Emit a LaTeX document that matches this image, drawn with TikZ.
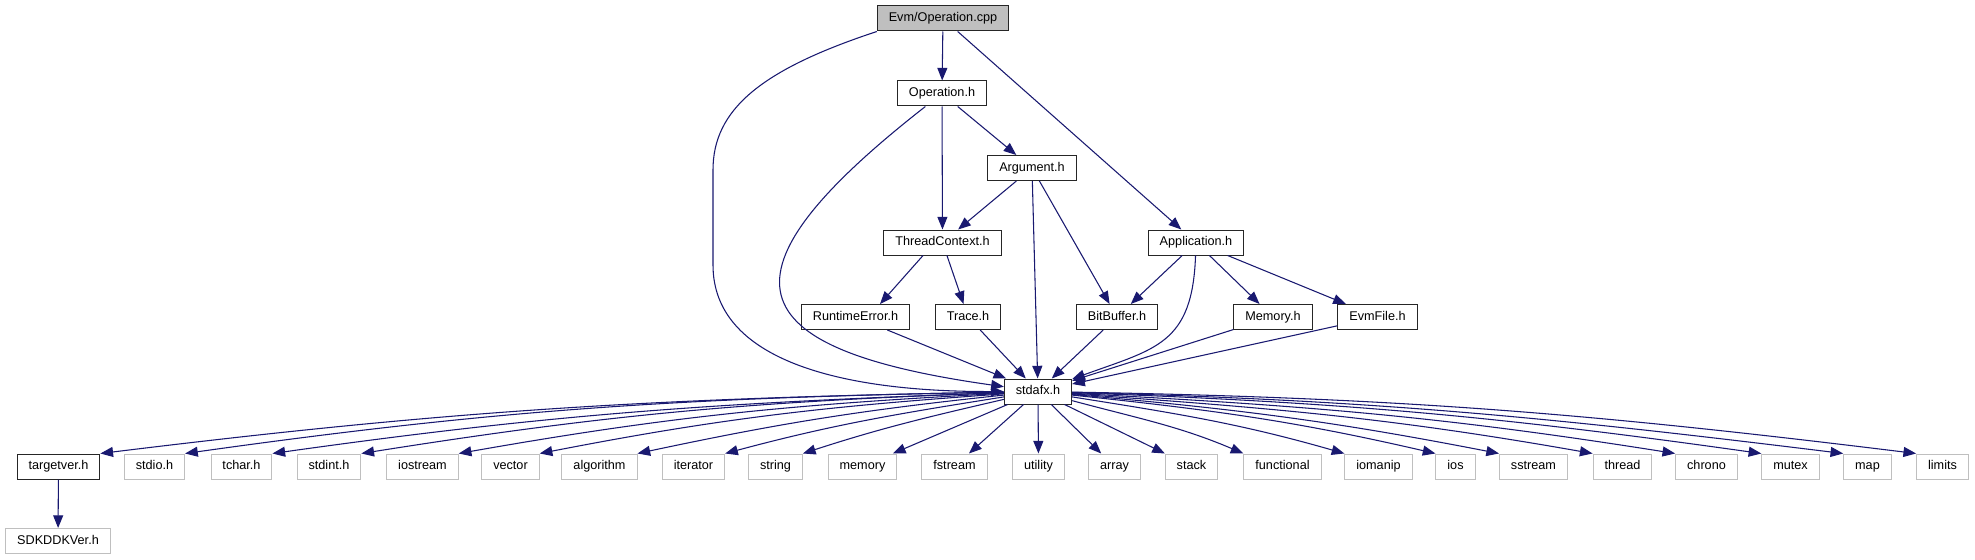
\documentclass[tikz,border=0pt]{standalone}
\usepackage{fontspec}
\setmainfont{Liberation Sans}
\usetikzlibrary{arrows.meta}
\definecolor{edgeblue}{RGB}{25,25,112}
\definecolor{sysgray}{RGB}{191,191,191}
\begin{document}
\begin{tikzpicture}[x=0.75pt, y=0.75pt,
    every node/.style={font=\fontsize{9.5}{11}\selectfont, inner xsep=8.6pt, inner ysep=2pt, minimum height=18.75pt, text height=7pt, text depth=2pt, line width=0.75pt, fill=white},
    hdr/.style={draw=black!85},
    sys/.style={draw=sysgray},
    dep/.style={draw=edgeblue, line width=0.8pt, -{Triangle[length=9.5pt,width=7.5pt]}}]
    \useasboundingbox (0,0) rectangle (1975,-560);
    \node[hdr, fill=sysgray] (evm) at (943,-18.5) {Evm/Operation.cpp};
    \node[hdr] (oph) at (942,-93.5) {Operation.h};
    \node[hdr] (argh) at (1032,-168) {Argument.h};
    \node[hdr] (tch) at (942.5,-242.5) {ThreadContext.h};
    \node[hdr] (apph) at (1196,-242.5) {Application.h};
    \node[hdr] (rte) at (855.5,-317) {RuntimeError.h};
    \node[hdr] (trh) at (968,-317) {Trace.h};
    \node[hdr] (bbh) at (1117,-317) {BitBuffer.h};
    \node[hdr] (memh) at (1273,-317) {Memory.h};
    \node[hdr] (efh) at (1377.5,-317) {EvmFile.h};
    \node[hdr] (stdafx) at (1038,-391.5) {stdafx.h};
    \node[hdr] (targetver) at (58.5,-466.5) {targetver.h};
    \node[sys] (stdio) at (154.5,-466.5) {stdio.h};
    \node[sys] (tchar) at (241.5,-466.5) {tchar.h};
    \node[sys] (stdint) at (329,-466.5) {stdint.h};
    \node[sys] (iostream) at (422.5,-466.5) {iostream};
    \node[sys] (vector) at (510.5,-466.5) {vector};
    \node[sys] (algorithm) at (599.5,-466.5) {algorithm};
    \node[sys] (iterator) at (693.5,-466.5) {iterator};
    \node[sys] (string) at (775.5,-466.5) {string};
    \node[sys] (memory) at (862.5,-466.5) {memory};
    \node[sys] (fstream) at (954.5,-466.5) {fstream};
    \node[sys] (utility) at (1038.5,-466.5) {utility};
    \node[sys] (array) at (1114.5,-466.5) {array};
    \node[sys] (stack) at (1191.5,-466.5) {stack};
    \node[sys] (functional) at (1282.5,-466.5) {functional};
    \node[sys] (iomanip) at (1378.5,-466.5) {iomanip};
    \node[sys] (ios) at (1455.5,-466.5) {ios};
    \node[sys] (sstream) at (1533.5,-466.5) {sstream};
    \node[sys] (thread) at (1622.5,-466.5) {thread};
    \node[sys] (chrono) at (1706.5,-466.5) {chrono};
    \node[sys] (mutex) at (1790.5,-466.5) {mutex};
    \node[sys] (map) at (1867.5,-466.5) {map};
    \node[sys] (limits) at (1942.5,-466.5) {limits};
    \node[sys] (sdk) at (58,-541) {SDKDDKVer.h};
    \draw[dep] (evm) -- (oph);
    \draw[dep] (evm) -- (apph);
    \draw[dep] (evm.south west) .. controls (760,-70) and (713,-110) .. (713,-170) -- (713,-265) .. controls (713,-360) and (840,-392) .. (stdafx.west);
    \draw[dep] (oph) -- (tch);
    \draw[dep] (oph) -- (argh);
    \draw[dep] (oph) to[out=218, in=172, looseness=2.4] (stdafx);
    \draw[dep] (argh) -- (tch);
    \draw[dep] (argh) -- (stdafx);
    \draw[dep] (argh) -- (bbh);
    \draw[dep] ([xshift=-14.6pt]tch.south) -- ([xshift=18.4pt]rte.north);
    \draw[dep] (tch) -- (trh);
    \draw[dep] (apph) -- (bbh);
    \draw[dep] (apph) to[out=-92, in=20, looseness=1.3] (stdafx);
    \draw[dep] (apph) -- (memh);
    \draw[dep] (apph) -- (efh);
    \draw[dep] (rte) -- (stdafx);
    \draw[dep] (trh) -- (stdafx);
    \draw[dep] (bbh) -- (stdafx);
    \draw[dep] (memh) -- (stdafx);
    \draw[dep] (efh) -- (stdafx);
    \draw[dep] (stdafx) to[out=181, in=7] (targetver.north east);
    \draw[dep] (stdafx) to[out=181, in=8] (stdio.north east);
    \draw[dep] (stdafx) to[out=182, in=8] (tchar.north east);
    \draw[dep] (stdafx) to[out=182, in=9] (stdint.north east);
    \draw[dep] (stdafx) to[out=183, in=10] (iostream.north east);
    \draw[dep] (stdafx) to[out=184, in=11] (vector.north east);
    \draw[dep] (stdafx) to[out=186, in=12] (algorithm.north east);
    \draw[dep] (stdafx) to[out=189, in=15] (iterator.north east);
    \draw[dep] (stdafx) to[out=193, in=18] (string.north east);
    \draw[dep] (stdafx) -- (memory);
    \draw[dep] (stdafx) -- (fstream);
    \draw[dep] (stdafx) -- (utility);
    \draw[dep] (stdafx) -- (array);
    \draw[dep] (stdafx) -- (stack);
    \draw[dep] (stdafx) to[out=-15, in=157] (functional.north west);
    \draw[dep] (stdafx) to[out=-9, in=164] (iomanip.north west);
    \draw[dep] (stdafx) to[out=-6, in=167] (ios.north west);
    \draw[dep] (stdafx) to[out=-5, in=169] (sstream.north west);
    \draw[dep] (stdafx) to[out=-4, in=170] (thread.north west);
    \draw[dep] (stdafx) to[out=-3, in=171] (chrono.north west);
    \draw[dep] (stdafx) to[out=-2, in=172] (mutex.north west);
    \draw[dep] (stdafx) to[out=-1.5, in=173] (map.north west);
    \draw[dep] (stdafx) to[out=-1, in=173] (limits.north west);
    \draw[dep] (targetver) -- (sdk);
\end{tikzpicture}
\end{document}
